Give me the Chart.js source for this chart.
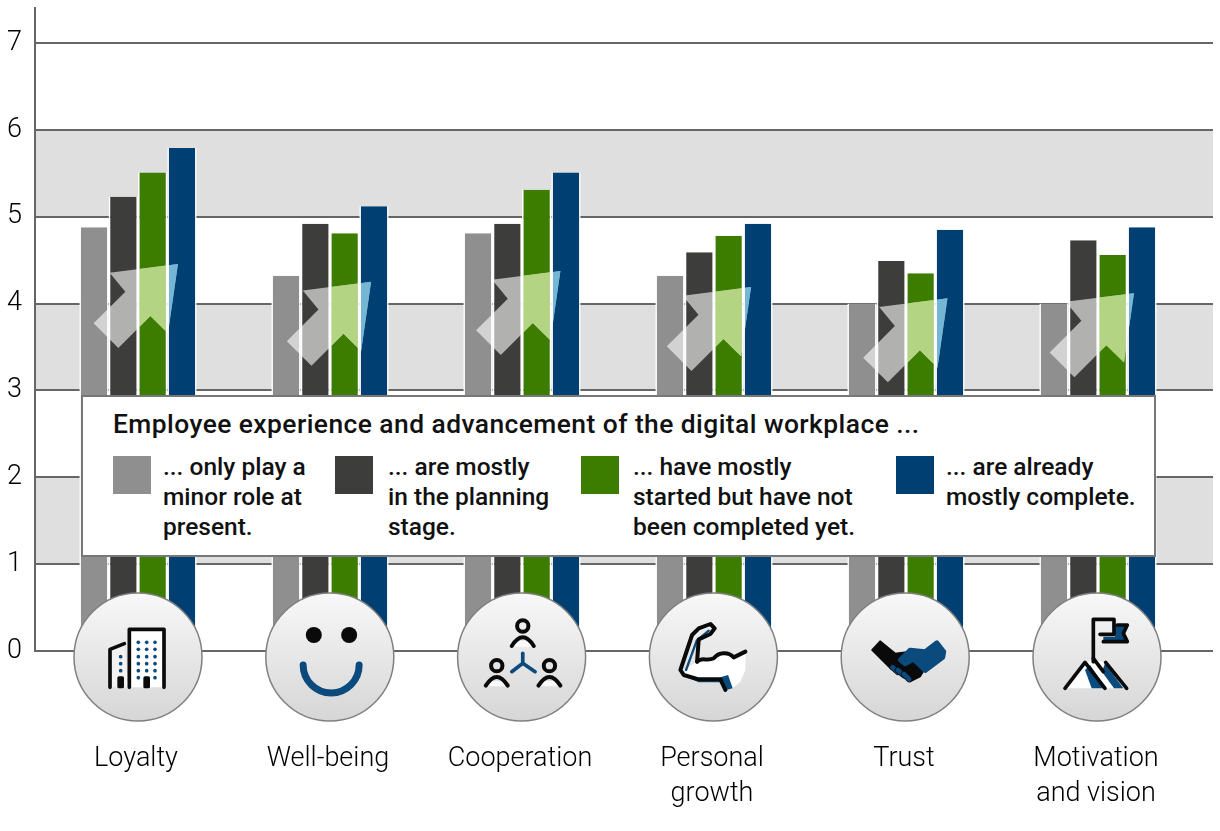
<!DOCTYPE html>
<html lang="en">
<head>
<meta charset="UTF-8" />
<title>Employee experience and the digital workplace</title>
<script src="https://cdn.jsdelivr.net/npm/chart.js"></script>
<style>
  html, body { margin: 0; padding: 0; background: #fff; }
  #wrap { position: relative; width: 1220px; height: 831px; overflow: hidden; }
  canvas { position: absolute; left: 0; top: 0; }
  #legend {
    position: absolute; left: 81px; top: 395px; width: 1071px; height: 158px;
    background: #fff; border: 2px solid #777;
    font-family: Roboto, sans-serif; font-weight: 500; color: #111;
  }
  #legend .title { position: absolute; left: 30px; top: 11px; font-size: 26.4px; letter-spacing: 0.44px; line-height: 32px; white-space: nowrap; }
  #legend .swatch { position: absolute; top: 59px; width: 38px; height: 38px; }
  #legend .item { position: absolute; top: 55px; font-size: 24.5px; line-height: 30px; white-space: nowrap; }
</style>
</head>
<body>
<div id="wrap">
  <canvas id="chart" width="1220" height="831"></canvas>
  <div id="legend"></div>
</div>
<script>
const categories = [["Loyalty"], ["Well-being"], ["Cooperation"], ["Personal", "growth"], ["Trust"], ["Motivation", "and vision"]];
const minorRole = [4.88, 4.32, 4.81, 4.32, 4.0, 4.0];
const planning = [5.23, 4.92, 4.92, 4.59, 4.49, 4.73];
const started = [5.51, 4.81, 5.31, 4.78, 4.35, 4.56];
const complete = [5.79, 5.12, 5.51, 4.92, 4.85, 4.88];
const bands = [[5, 6], [3, 4], [1, 2]];
const legendTitle = "Employee experience and advancement of the digital workplace ...";
const legendLines = [
  ["... only play a", "minor role at", "present."],
  ["... are mostly", "in the planning", "stage."],
  ["... have mostly", "started but have not", "been completed yet."],
  ["... are already", "mostly complete."]
];
const colors = ["#8f8f8f", "#3d3d3b", "#3c7d00", "#003f72"];
const swatchLeft = [30, 252, 498, 813];
const textLeft = [80, 305, 550, 863];

// arrow top right corner for each group, in scale units
const arrowX = [0.208, 0.214, 0.2, 0.193, 0.216, 0.1875];
const arrowY = [4.455, 4.25, 4.375, 4.19, 4.06, 4.12];
const arrowShape = [[-68.3, 8.7], [0, 0], [-10, 69.3], [-27.6, 52], [-59.6, 84], [-84.3, 59.3], [-52.6, 27.7]];
// what the chevron looks like on top of the green and blue bars
const tintOver = { 2: "#b2d483", 3: "#74b6d4" };

const BLUE = "#0b4a7d";
const INK = "#0a0a0a";

function poly(ctx, pts, close) {
  ctx.beginPath();
  pts.forEach((p, i) => (i ? ctx.lineTo(p[0], p[1]) : ctx.moveTo(p[0], p[1])));
  if (close) ctx.closePath();
}
function strokePts(ctx, pts, color, w) {
  poly(ctx, pts);
  ctx.strokeStyle = color;
  ctx.lineWidth = w;
  ctx.stroke();
}
function fillPts(ctx, pts, color) {
  poly(ctx, pts, true);
  ctx.fillStyle = color;
  ctx.fill();
}
function dot(ctx, x, y, r, color) {
  ctx.beginPath();
  ctx.arc(x, y, r, 0, Math.PI * 2);
  ctx.fillStyle = color;
  ctx.fill();
}

// icons are sketched in a 3x grid, matching the crops they were read from
function personIcon(ctx, x, y) {
  ctx.beginPath();
  ctx.arc(x, y, 17, 0, Math.PI * 2);
  ctx.strokeStyle = INK;
  ctx.lineWidth = 12;
  ctx.stroke();
  fillPts(ctx, [[x - 30, y + 62], [x + 30, y + 62], [x + 24, y + 46], [x - 24, y + 46]], "#fafafa");
  ctx.beginPath();
  ctx.moveTo(x - 33, y + 60);
  ctx.quadraticCurveTo(x, y + 8, x + 33, y + 60);
  ctx.stroke();
}
const icons = [
  function building(ctx) {
    ctx.translate(-174, -171);
    fillPts(ctx, [[148, 88], [252, 88], [252, 262], [148, 262]], "#ffffff");
    fillPts(ctx, [[90, 148], [133, 131], [145, 262], [90, 262]], "#f2f2f2");
    ctx.lineCap = "round";
    ctx.lineJoin = "round";
    strokePts(ctx, [[148, 262], [148, 88], [252, 88], [252, 262]], INK, 11);
    strokePts(ctx, [[90, 262], [90, 148], [133, 131]], INK, 11);
    ctx.fillStyle = INK;
    ctx.beginPath();
    ctx.roundRect(112, 229, 20, 36, 5);
    ctx.roundRect(190, 229, 20, 36, 5);
    ctx.fill();
    [127, 148, 170, 191, 212, 233].forEach((y) => {
      [175, 200, 225].forEach((x) => {
        if (y !== 233 || x !== 200) dot(ctx, x, y, 5.5, BLUE);
      });
    });
    [170, 191, 212].forEach((y) => dot(ctx, 122, y, 5.5, BLUE));
  },
  function smile(ctx) {
    dot(ctx, -48, -66, 24, INK);
    dot(ctx, 58, -66, 24, INK);
    ctx.beginPath();
    ctx.moveTo(-80, 24);
    ctx.arc(4, 24, 84, Math.PI, 0, true);
    ctx.strokeStyle = BLUE;
    ctx.lineWidth = 21;
    ctx.lineCap = "round";
    ctx.stroke();
  },
  function cooperation(ctx) {
    ctx.translate(-184.5, -171);
    ctx.lineCap = "round";
    personIcon(ctx, 188, 78);
    personIcon(ctx, 110, 197);
    personIcon(ctx, 268, 197);
    strokePts(ctx, [[188, 160], [188, 190]], BLUE, 11);
    strokePts(ctx, [[155, 215], [188, 190], [225, 215]], BLUE, 11);
  },
  function arm(ctx) {
    ctx.translate(-174, -171);
    ctx.lineCap = "round";
    ctx.lineJoin = "round";
    fillPts(ctx, [[125, 185], [150, 170], [175, 175], [205, 160], [235, 170], [270, 155], [270, 210], [255, 245], [232, 265], [208, 268], [195, 240], [130, 240], [85, 225], [100, 200]], "#ffffff");
    fillPts(ctx, [[195, 232], [218, 225], [232, 265], [212, 270]], BLUE);
    strokePts(ctx, [[92, 210], [124, 122], [160, 92]], BLUE, 7);
    strokePts(ctx, [[95, 229], [130, 243], [195, 243]], BLUE, 7);
    strokePts(ctx, [[125, 185], [130, 118], [165, 102], [178, 85], [165, 72], [130, 85], [110, 105], [75, 210], [85, 225], [130, 238], [195, 238], [210, 270]], INK, 12);
    ctx.beginPath();
    ctx.moveTo(125, 185);
    ctx.bezierCurveTo(140, 170, 155, 185, 175, 175);
    ctx.bezierCurveTo(190, 155, 220, 155, 235, 172);
    ctx.lineTo(270, 155);
    ctx.stroke();
  },
  function handshake(ctx) {
    ctx.translate(-180, -171);
    ctx.lineJoin = "round";
    ctx.lineCap = "round";
    poly(ctx, [[80, 150], [105, 123], [150, 160], [190, 155], [240, 205], [225, 230], [195, 245], [135, 205]], true);
    ctx.fillStyle = INK;
    ctx.strokeStyle = INK;
    ctx.lineWidth = 4;
    ctx.fill();
    ctx.stroke();
    [[142, 202, 158, 216], [158, 210, 176, 226], [176, 222, 192, 238]].forEach((f) => {
      strokePts(ctx, [[f[0], f[1]], [f[2], f[3]]], INK, 18);
      strokePts(ctx, [[f[0], f[1]], [f[2], f[3]]], BLUE, 14);
    });
    poly(ctx, [[165, 180], [195, 150], [240, 155], [275, 128], [296, 155], [293, 172], [240, 212], [205, 178], [180, 192]], true);
    ctx.fillStyle = BLUE;
    ctx.fill();
    ctx.strokeStyle = BLUE;
    ctx.stroke();
  },
  function summit(ctx) {
    ctx.translate(-171, -171);
    ctx.lineCap = "round";
    ctx.lineJoin = "round";
    fillPts(ctx, [[78, 265], [135, 190], [160, 178], [197, 190], [258, 265]], "#ffffff");
    fillPts(ctx, [[135, 210], [150, 195], [198, 265], [155, 265]], BLUE);
    fillPts(ctx, [[195, 190], [250, 265], [222, 265], [186, 215]], BLUE);
    fillPts(ctx, [[225, 75], [262, 75], [250, 100], [262, 125], [190, 125], [190, 110], [225, 110]], BLUE);
    strokePts(ctx, [[160, 185], [160, 58], [222, 58], [222, 103], [180, 103]], INK, 11);
    strokePts(ctx, [[232, 75], [262, 75], [250, 100], [262, 125], [190, 125]], INK, 11);
    strokePts(ctx, [[75, 265], [135, 187], [195, 265]], INK, 11);
    strokePts(ctx, [[197, 187], [260, 265]], INK, 11);
    strokePts(ctx, [[160, 175], [190, 215]], INK, 11);
  }
];

const bandPlugin = {
  id: "bands",
  beforeDraw(chart) {
    const { ctx, chartArea, scales } = chart;
    ctx.save();
    ctx.fillStyle = "#dfdfdf";
    bands.forEach((b) => {
      const top = scales.y.getPixelForValue(b[1]);
      ctx.fillRect(chartArea.left, top, chartArea.right - chartArea.left, scales.y.getPixelForValue(b[0]) - top);
    });
    ctx.restore();
  }
};

const decorPlugin = {
  id: "decor",
  afterDatasetsDraw(chart) {
    const { ctx, scales } = chart;

    // translucent chevrons across each group
    categories.forEach((c, i) => {
      const tx = scales.x.getPixelForValue(i + arrowX[i]);
      const ty = scales.y.getPixelForValue(arrowY[i]);
      const pts = arrowShape.map((p) => [tx + p[0], ty + p[1]]);
      ctx.save();
      fillPts(ctx, pts, "rgba(255,255,255,0.6)");
      ctx.restore();
      Object.keys(tintOver).forEach((s) => {
        const bar = chart.getDatasetMeta(+s).data[i];
        ctx.save();
        ctx.beginPath();
        ctx.rect(bar.x - 13, 0, 26, chart.height);
        ctx.clip();
        fillPts(ctx, pts, tintOver[s]);
        ctx.restore();
      });
    });

    // round badges with the icons
    categories.forEach((c, i) => {
      const cx = scales.x.getPixelForValue(i) - i * 0.2;
      const cy = scales.y.bottom + 6;
      ctx.save();
      const grad = ctx.createLinearGradient(0, cy - 64, 0, cy + 64);
      grad.addColorStop(0, "#f8f8f8");
      grad.addColorStop(1, "#d6d6d6");
      ctx.beginPath();
      ctx.arc(cx, cy, 64, 0, Math.PI * 2);
      ctx.fillStyle = grad;
      ctx.fill();
      ctx.strokeStyle = "#808080";
      ctx.lineWidth = 1.5;
      ctx.stroke();
      ctx.translate(cx, cy);
      ctx.scale(1 / 3, 1 / 3);
      icons[i](ctx);
      ctx.restore();
    });
  }
};

const seriesValues = [minorRole, planning, started, complete];

new Chart(document.getElementById("chart"), {
  type: "bar",
  data: {
    datasets: seriesValues.map((values, s) => ({
      label: legendLines[s].join(" "),
      data: values.map((v, i) => ({ x: i, y: v })),
      backgroundColor: colors[s],
      borderColor: "#ffffff",
      borderWidth: { left: 1.6, right: 1.6, top: 0, bottom: 0 },
      barPercentage: 1,
      categoryPercentage: 0.611
    }))
  },
  options: {
    responsive: false,
    animation: false,
    devicePixelRatio: 1,
    layout: { padding: { top: 8, right: 7, left: 0, bottom: 0 } },
    plugins: { legend: { display: false }, tooltip: { enabled: false } },
    scales: {
      x: {
        type: "linear",
        offset: false,
        min: -0.5365,
        max: 5.599,
        grid: { display: false },
        border: { display: false },
        afterBuildTicks(axis) {
          axis.ticks = categories.map((c, i) => ({ value: i }));
        },
        afterFit(axis) {
          // fixed plot box, labels must not push it in
          axis.height = 180;
          axis.paddingLeft = 0;
          axis.paddingRight = 0;
        },
        ticks: {
          autoSkip: false,
          maxRotation: 0,
          padding: 83,
          labelOffset: -2,
          color: "#000",
          font: { family: "Roboto", weight: "300", size: 27, lineHeight: 1.3 },
          callback: (value) => categories[value]
        }
      },
      y: {
        min: 0,
        max: 7.403,
        grid: { color: "#666666", lineWidth: 2, drawTicks: false },
        border: { display: true, color: "#666666", width: 2 },
        afterFit(axis) {
          axis.width = 35;
          axis.paddingTop = 0;
          axis.paddingBottom = 0;
        },
        ticks: {
          stepSize: 1,
          includeBounds: false,
          padding: 13,
          color: "#000",
          font: { family: "Roboto", weight: "300", size: 27 }
        }
      }
    }
  },
  plugins: [bandPlugin, decorPlugin]
});

// legend box on top of the chart
const legendEl = document.getElementById("legend");
const titleEl = document.createElement("div");
titleEl.className = "title";
titleEl.textContent = legendTitle;
legendEl.appendChild(titleEl);
legendLines.forEach((lines, s) => {
  const sw = document.createElement("div");
  sw.className = "swatch";
  sw.style.left = swatchLeft[s] + "px";
  sw.style.background = colors[s];
  legendEl.appendChild(sw);
  const item = document.createElement("div");
  item.className = "item";
  item.style.left = textLeft[s] + "px";
  item.innerHTML = lines.join("<br>");
  legendEl.appendChild(item);
});
</script>
</body>
</html>
